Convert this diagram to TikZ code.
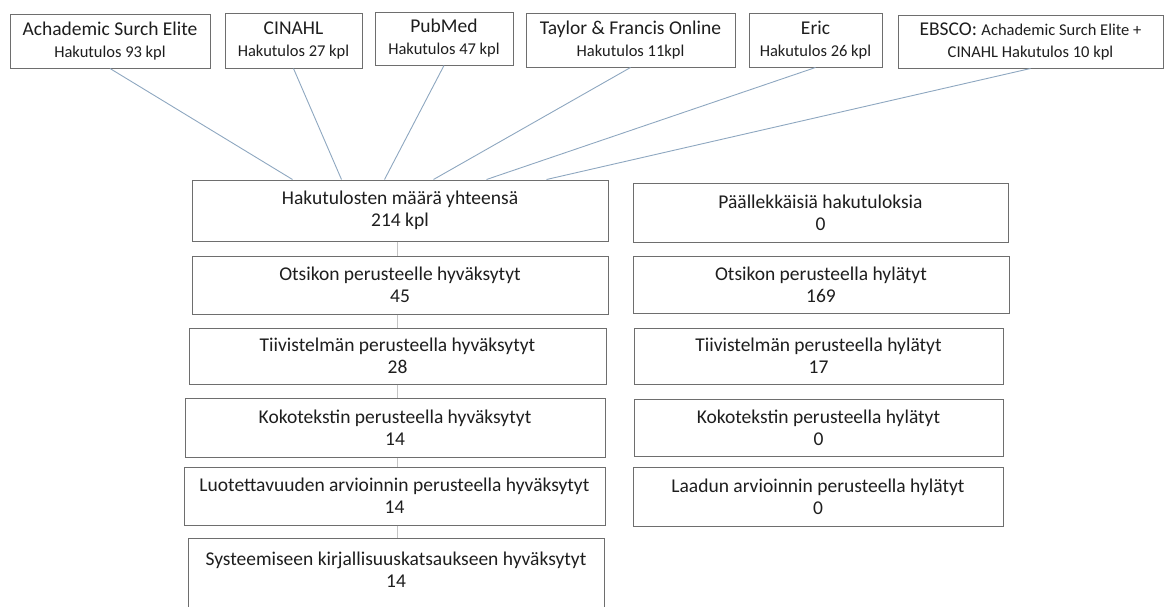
\documentclass[tikz,border=0pt]{standalone}
\usepackage{fontspec}
\setmainfont{Carlito}
\usetikzlibrary{shadows,calc}
\definecolor{edge}{HTML}{6E6E6E}
\definecolor{link}{HTML}{8EA7C0}
\definecolor{vlink}{HTML}{C4C4C4}
\definecolor{ink}{HTML}{1E1E1E}
\newcommand{\bigtxt}{\fontsize{19.5}{22}\selectfont}
\newcommand{\smltxt}{\fontsize{16.5}{22}\selectfont}
\tikzset{
  box/.style={draw=edge, line width=1pt, fill=white, inner sep=0pt, align=center,
    text=ink, font=\bigtxt,
    drop shadow={shadow xshift=1.1pt, shadow yshift=-1.1pt, fill=black!50, opacity=1}},
  txt/.style={inner sep=0pt, align=center, text=ink, font=\bigtxt},
  src/.style={draw=link, line width=0.9pt},
  flow/.style={draw=vlink, line width=0.8pt}
}
\begin{document}
\begin{tikzpicture}[x=1pt,y=-1pt]
\useasboundingbox (0,0) rectangle (1165,606);
% top source boxes
\node[box, minimum width=200, minimum height=54] (A1) at (110,41) {Achademic Surch Elite\\{\smltxt Hakutulos 93 kpl}};
\node[box, minimum width=137, minimum height=55] (A2) at (293.5,40.5) {CINAHL\\{\smltxt Hakutulos 27 kpl}};
\node[box, minimum width=138, minimum height=53] (A3) at (444,38.5) {PubMed\\{\smltxt Hakutulos 47 kpl}};
\node[box, minimum width=209, minimum height=54] (A4) at (630.5,40) {Taylor \& Francis Online\\{\smltxt Hakutulos 11kpl}};
\node[box, minimum width=133, minimum height=54] (A5) at (815.5,40) {Eric\\{\smltxt Hakutulos 26 kpl}};
\node[box, minimum width=265, minimum height=53] (A6) at (1030.5,41.5) {EBSCO: {\smltxt Achademic Surch Elite +}\\{\smltxt CINAHL Hakutulos 10 kpl}};
% main column
\node[box, minimum width=416, minimum height=61] (M1) at (400,210.5) {Hakutulosten määrä yhteensä\\214 kpl};
\node[box, minimum width=416, minimum height=58] (M2) at (400,285) {Otsikon perusteelle hyväksytyt\\45};
\node[box, minimum width=417, minimum height=56] (M3) at (397.5,356) {Tiivistelmän perusteella hyväksytyt\\28};
\node[box, minimum width=420, minimum height=59] (M4) at (395,427.5) {Kokotekstin perusteella hyväksytyt\\14};
\node[box, minimum width=421, minimum height=58] (M5) at (394.5,496) {Luotettavuuden arvioinnin perusteella hyväksytyt\\14};
\node[box, minimum width=416, minimum height=100] (M6) at (396,588) {};
\node[txt] (M6t) at (396,570) {Systeemiseen kirjallisuuskatsaukseen hyväksytyt\\14};
% right column
\node[box, minimum width=375, minimum height=59] (R1) at (820.5,212.5) {Päällekkäisiä hakutuloksia\\0};
\node[box, minimum width=376, minimum height=57] (R2) at (821,284.5) {Otsikon perusteella hylätyt\\169};
\node[box, minimum width=369, minimum height=56] (R3) at (818.5,356) {Tiivistelmän perusteella hylätyt\\17};
\node[box, minimum width=369, minimum height=57] (R4) at (818.5,427.5) {Kokotekstin perusteella hylätyt\\0};
\node[box, minimum width=370, minimum height=59] (R5) at (818,496.5) {Laadun arvioinnin perusteella hylätyt\\0};
% source connectors
\draw[src] (A1.south) -- ($(M1.north west)+(101,0)$);
\draw[src] (A2.south) -- ($(M1.north west)+(150,0)$);
\draw[src] (A3.south) -- ($(M1.north west)+(193,0)$);
\draw[src] (A4.south) -- ($(M1.north west)+(242,0)$);
\draw[src] (A5.south) -- ($(M1.north west)+(295,0)$);
\draw[src] (A6.south) -- ($(M1.north west)+(355,0)$);
% flow connectors
\coordinate (c1) at (397,241);
\draw[flow] (M1.south -| c1) -- (M2.north -| c1);
\draw[flow] (M2.south -| c1) -- (M3.north -| c1);
\draw[flow] (M3.south -| c1) -- (M4.north -| c1);
\draw[flow] (M4.south -| c1) -- (M5.north -| c1);
\draw[flow] (M5.south -| c1) -- (M6.north -| c1);
\end{tikzpicture}
\end{document}
